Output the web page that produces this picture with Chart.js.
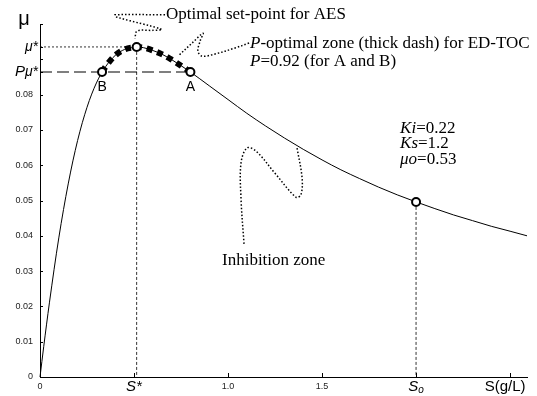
<!DOCTYPE html>
<html><head><meta charset="utf-8">
<script src="https://cdn.jsdelivr.net/npm/chart.js@4.4.0/dist/chart.umd.min.js"></script>
<style>html,body{margin:0;padding:0;background:#fff}#wrap{width:537px;height:396px;position:relative}</style>
</head><body><div id="wrap"><canvas id="c"></canvas></div>
<script>
// ---- data ----
const S_values  = [0, 0.02, 0.05, 0.1, 0.15, 0.2, 0.25, 0.3, 0.35, 0.4, 0.45, 0.5, 0.514, 0.55, 0.6, 0.65, 0.7, 0.75, 0.8, 0.9, 1.0, 1.1, 1.2, 1.3, 1.4, 1.5, 1.6, 1.7, 1.8, 1.9, 2.0, 2.1, 2.2, 2.3, 2.4, 2.5, 2.59];
const MU_values = [0, 0.0087, 0.0210, 0.0394, 0.0547, 0.0670, 0.0764, 0.0833, 0.0880, 0.0911, 0.0928, 0.0934, 0.0935, 0.0933, 0.0925, 0.0914, 0.0899, 0.0882, 0.0864, 0.0825, 0.0786, 0.0747, 0.0711, 0.0677, 0.0645, 0.0615, 0.0587, 0.0562, 0.0538, 0.0516, 0.0496, 0.0477, 0.0459, 0.0443, 0.0427, 0.0413, 0.0400];
const S_STAR = 0.514, MU_STAR = 0.0935;
const P_MU_STAR = 0.0864;
const S_B = 0.33, S_A = 0.80;
const S_O = 2.0, MU_O = 0.0496;
const X_TICKS = [0, 0.5, 1.0, 1.5, 2.0, 2.5];
const X_TICK_LABELS = ['0', 'S*', '1.0', '1.5', 'So', 'S(g/L)'];
const Y_TICKS = [0, 0.01, 0.02, 0.03, 0.04, 0.05, 0.06, 0.07, 0.08, 0.09, 0.1];
const Y_TICK_LABELS = ['0', '0.01', '0.02', '0.03', '0.04', '0.05', '0.06', '0.07', '0.08', '', ''];

// ---- annotation pointer paths (data coordinates) ----
const POINTER_OPTIMAL = [[0.665,0.1026],[0.399,0.1026],[0.405,0.1020],[0.647,0.0985],[0.60,0.0982],[0.516,0.0980],[0.505,0.0959]];
const POINTER_PZONE = [[1.112,0.0946],[1.037,0.0932],[0.931,0.0915],[0.862,0.0909],[0.840,0.0923],[0.851,0.0951],[0.867,0.0974],[0.809,0.0946],[0.734,0.0909]];
const POINTER_INHIB = [[1.085,0.0377],[1.069,0.0506],[1.069,0.0606],[1.101,0.0649],[1.149,0.0640],[1.250,0.0577],[1.362,0.0509],[1.388,0.0517],[1.394,0.0563],[1.367,0.0649]];

const SERIF = '"Liberation Serif","Times New Roman",serif';
const SANS = '"Liberation Sans",Arial,sans-serif';

const curve = S_values.map((s, i) => ({x: s, y: MU_values[i]}));
const zone = [{x: S_B, y: P_MU_STAR}].concat(curve.filter(p => p.x > S_B && p.x <= S_A));
const markers = [{x: S_B, y: P_MU_STAR}, {x: S_STAR, y: MU_STAR}, {x: S_A, y: P_MU_STAR}, {x: S_O, y: MU_O}];
const toPts = arr => arr.map(p => ({x: p[0], y: p[1]}));

function line(data, opts) {
  return Object.assign({data, showLine: true, pointRadius: 0, borderColor: '#000', borderWidth: 1, fill: false, clip: false, tension: 0}, opts);
}

function drawRich(ctx, x, y, parts, align) {
  let total = 0;
  parts.forEach(p => { ctx.font = p.f; total += ctx.measureText(p.t).width; });
  let cx = align === 'right' ? x - total : (align === 'center' ? x - total / 2 : x);
  parts.forEach(p => {
    ctx.font = p.f;
    ctx.fillText(p.t, cx, y + (p.dy || 0));
    cx += ctx.measureText(p.t).width;
  });
}

const decor = {
  id: 'decor',
  afterDraw(chart) {
    const {ctx, chartArea: ca, scales: {x: xs, y: ys}} = chart;
    const X = v => xs.getPixelForValue(v), Y = v => ys.getPixelForValue(v);
    ctx.save();
    ctx.strokeStyle = '#000'; ctx.lineWidth = 1; ctx.setLineDash([]);
    // inward tick marks
    ctx.beginPath();
    X_TICKS.forEach(v => { const px = Math.round(X(v)) + 0.5; ctx.moveTo(px, ca.bottom); ctx.lineTo(px, ca.bottom - 4); });
    Y_TICKS.concat([MU_STAR, P_MU_STAR]).forEach(v => { const py = Math.round(Y(v)) + 0.5; ctx.moveTo(ca.left, py); ctx.lineTo(ca.left + 3, py); });
    ctx.stroke();

    ctx.fillStyle = '#000';
    ctx.textBaseline = 'middle';
    ctx.textAlign = 'left';
    // axis symbols
    drawRich(ctx, ca.left - 16, 19, [{t: 'μ', f: '20px ' + SANS}], 'center');
    drawRich(ctx, ca.left - 2, Y(MU_STAR), [{t: 'μ*', f: 'italic 14px ' + SANS}], 'right');
    drawRich(ctx, ca.left - 2, Y(P_MU_STAR), [{t: 'P', f: 'italic 15px ' + SANS}, {t: 'μ*', f: 'italic 14px ' + SANS}], 'right');
    const xl = ca.bottom + 10;
    drawRich(ctx, X(X_TICKS[1]), xl, [{t: 'S*', f: 'italic 15px ' + SANS}], 'center');
    drawRich(ctx, X(X_TICKS[4]), xl, [{t: 'S', f: 'italic 15px ' + SANS}, {t: 'o', f: 'italic 10px ' + SANS, dy: 3}], 'center');
    drawRich(ctx, X(X_TICKS[5]) - 5, xl, [{t: 'S(g/L)', f: '15px ' + SANS}], 'center');
    // point labels
    drawRich(ctx, X(S_B), Y(P_MU_STAR) + 15, [{t: 'B', f: '14px ' + SANS}], 'center');
    drawRich(ctx, X(S_A), Y(P_MU_STAR) + 15, [{t: 'A', f: '14px ' + SANS}], 'center');
    // serif annotations
    const F = '17px ' + SERIF, FI = 'italic 17px ' + SERIF;
    drawRich(ctx, X(0.670), Y(0.10255), [{t: 'Optimal set-point for AES', f: F}], 'left');
    drawRich(ctx, X(1.117), Y(0.0946), [{t: 'P', f: FI}, {t: '-optimal zone (thick dash) for ED-TOC', f: F}], 'left');
    drawRich(ctx, X(1.117), Y(0.0895), [{t: 'P', f: FI}, {t: '=0.92 (for A and B)', f: F}], 'left');
    drawRich(ctx, X(1.915), Y(0.0705), [{t: 'Ki', f: FI}, {t: '=0.22', f: F}], 'left');
    drawRich(ctx, X(1.915), Y(0.0661), [{t: 'Ks', f: FI}, {t: '=1.2', f: F}], 'left');
    drawRich(ctx, X(1.915), Y(0.0617), [{t: 'μo', f: FI}, {t: '=0.53', f: F}], 'left');
    drawRich(ctx, X(0.968), Y(0.0329), [{t: 'Inhibition zone', f: F}], 'left');
    ctx.restore();
  }
};

const dotted = {borderDash: [1.5, 2], borderWidth: 1.5, tension: 0.35};

new Chart(document.getElementById('c'), {
  type: 'scatter',
  data: {
    datasets: [
      {data: markers, showLine: false, pointRadius: 4, pointBorderWidth: 2, pointBackgroundColor: '#fff', pointBorderColor: '#000', clip: false},
      line(zone, {borderWidth: 6, borderDash: [6, 5], borderCapStyle: 'butt', cubicInterpolationMode: 'monotone'}),
      line(curve, {borderWidth: 1, cubicInterpolationMode: 'monotone'}),
      line([{x: 0, y: P_MU_STAR}, {x: S_A, y: P_MU_STAR}], {borderDash: [12, 5], borderWidth: 1.2}),
      line([{x: 0, y: MU_STAR}, {x: S_STAR, y: MU_STAR}], {borderDash: [2, 2], borderWidth: 0.8}),
      line([{x: S_STAR, y: MU_STAR}, {x: S_STAR, y: 0}], {borderDash: [3, 2], borderWidth: 0.8}),
      line([{x: S_O, y: MU_O}, {x: S_O, y: 0}], {borderDash: [3, 2], borderWidth: 0.8}),
      line(toPts(POINTER_OPTIMAL), dotted),
      line(toPts(POINTER_PZONE), dotted),
      line(toPts(POINTER_INHIB), dotted)
    ]
  },
  options: {
    responsive: true, maintainAspectRatio: false, animation: false,
    layout: {padding: {top: 24, right: 10, left: 0, bottom: 0}},
    plugins: {legend: {display: false}, tooltip: {enabled: false}},
    scales: {
      x: {
        type: 'linear', min: 0, max: 2.59,
        grid: {display: false, drawTicks: false},
        border: {display: true, color: '#000', width: 1},
        afterBuildTicks: s => { s.ticks = X_TICKS.map(v => ({value: v})); },
        afterFit: s => { s.height = 19; },
        ticks: {
          padding: 4, color: '#222', font: {family: SANS, size: 9}, maxRotation: 0, autoSkip: false,
          callback: (v, i) => (['S*', 'So', 'S(g/L)'].includes(X_TICK_LABELS[i]) ? '' : X_TICK_LABELS[i])
        }
      },
      y: {
        type: 'linear', min: 0, max: 0.1,
        grid: {display: false, drawTicks: false},
        border: {display: true, color: '#000', width: 1},
        afterBuildTicks: s => { s.ticks = Y_TICKS.map(v => ({value: v})); },
        afterFit: s => { s.width = 40; },
        ticks: {padding: 7, color: '#222', font: {family: SANS, size: 9}, autoSkip: false,
          callback: (v, i) => Y_TICK_LABELS[i]}
      }
    }
  },
  plugins: [decor]
});
</script></body></html>
